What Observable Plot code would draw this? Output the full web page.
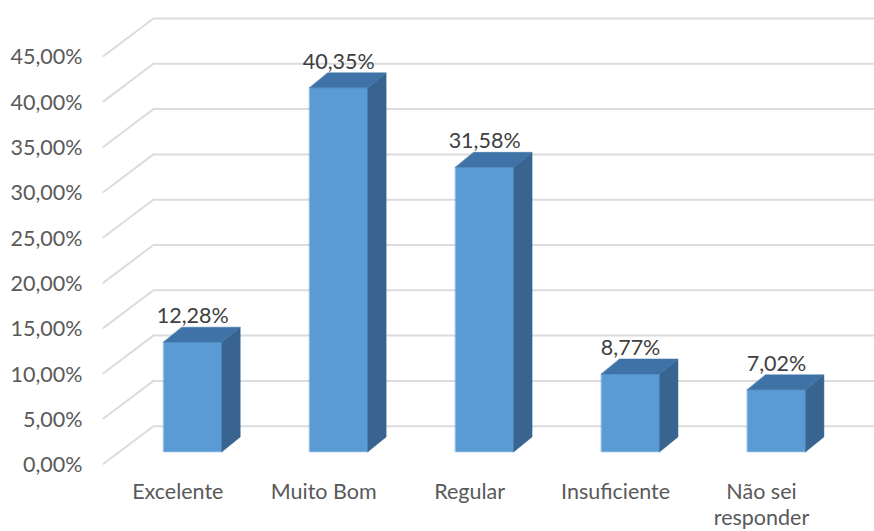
<!DOCTYPE html>
<html><head><meta charset="utf-8">
<script src="https://cdn.jsdelivr.net/npm/d3@7"></script>
<script src="https://cdn.jsdelivr.net/npm/@observablehq/plot@0.6"></script>
<style>html,body{margin:0;padding:0;background:#fff}svg{display:block}</style>
</head><body><div id="chart"></div>
<script>
const categories = ["Excelente","Muito Bom","Regular","Insuficiente","Não sei\nresponder"];
const values = [12.28,40.35,31.58,8.77,7.02];
const valueLabels = ["12,28%","40,35%","31,58%","8,77%","7,02%"];
const yTicks = [0,5,10,15,20,25,30,35,40,45];
const yTickLabels = ["0,00%","5,00%","10,00%","15,00%","20,00%","25,00%","30,00%","35,00%","40,00%","45,00%"];

// 3D projection parameters, in scale units
const gridFront = -0.612, gridBack = -0.27, gridEnd = 4.7, gridRise = 4.15;
const barHalf = 0.2, depthX = 0.125, depthY = 1.65, baseLift = 1.32, topLift = 1.15;

const grid = yTicks.flatMap(t => [
  {t, x: gridFront, y: t},
  {t, x: gridBack, y: t + gridRise},
  {t, x: gridEnd, y: t + gridRise}
]);
const front = values.flatMap((v,i) => [
  [i-barHalf, baseLift],[i+barHalf, baseLift],[i+barHalf, v+topLift],[i-barHalf, v+topLift]
].map(([x,y]) => ({i,x,y})));
const side = values.flatMap((v,i) => [
  [i+barHalf, baseLift],[i+barHalf+depthX, baseLift+depthY],[i+barHalf+depthX, v+topLift+depthY],[i+barHalf, v+topLift]
].map(([x,y]) => ({i,x,y})));
const top_ = values.flatMap((v,i) => [
  [i-barHalf, v+topLift],[i+barHalf, v+topLift],[i+barHalf+depthX, v+topLift+depthY],[i-barHalf+depthX, v+topLift+depthY]
].map(([x,y]) => ({i,x,y})));
const closed = {x:"x", y:"y", z:"i", curve:"linear-closed"};

const chart = Plot.plot({
  width: 874, height: 531,
  marginLeft: 82, marginRight: 0, marginTop: 0, marginBottom: 51,
  style: {background:"#fff", fontFamily:"Lato, sans-serif", fontSize:"21.5px"},
  x: {type:"linear", domain:[0,4], range:[192.3,776], axis:null},
  y: {domain:[0,50], range:[463.3,10.3], axis:null},
  marks: [
    Plot.line(grid, {x:"x", y:"y", z:"t", stroke:"#dcdcdc", strokeWidth:2}),
    Plot.line(front, {...closed, fill:"#5b9bd5", stroke:"#5b9bd5", strokeWidth:0.5}),
    Plot.line(side, {...closed, fill:"#38648f", stroke:"#38648f", strokeWidth:0.5}),
    Plot.line(top_, {...closed, fill:"#3f72a6", stroke:"#3f72a6", strokeWidth:0.5}),
    Plot.axisY({ticks:yTicks, tickFormat:d=>yTickLabels[yTicks.indexOf(d)], tickSize:0, tickPadding:0, anchor:"left", label:null, line:false, fill:"#595959", fontSize:21.5, dy:1.5}),
    Plot.axisX({ticks:[0,1,2,3,4], tickFormat:i=>categories[i], tickSize:0, tickPadding:0, anchor:"bottom", label:null, dx:-15, dy:-1, fill:"#595959", fontSize:21.5, lineHeight:1.25, lineAnchor:"top"}),
    Plot.text(values.map((v,i)=>({i,v,l:valueLabels[i]})), {x:"i", y:d=>d.v+topLift, text:"l", dy:-26, fill:"#404040", fontSize:21.5})
  ]
});
document.getElementById("chart").append(chart);
</script></body></html>
